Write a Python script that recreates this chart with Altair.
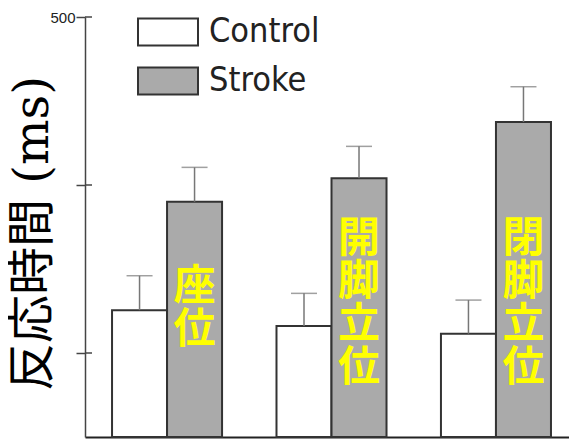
import altair as alt
import pandas as pd

conditions = ["座位", "開脚立位", "閉脚立位"]
bar_labels = ["座\n位", "開\n脚\n立\n位", "閉\n脚\n立\n位"]
label_y = [179, 236, 236]
groups = ["Control", "Stroke"]
control_mean = [151, 132, 123]
control_err = [41, 39, 40]
stroke_mean = [280, 308, 375]
stroke_err = [41, 38, 42]
y_ticks = [100, 300, 500]

rows = []
for i, c in enumerate(conditions):
    rows.append({"condition": c, "group": "Control", "mean": control_mean[i],
                 "top": control_mean[i] + control_err[i]})
    rows.append({"condition": c, "group": "Stroke", "mean": stroke_mean[i],
                 "top": stroke_mean[i] + stroke_err[i]})
df = pd.DataFrame(rows)
df_lab = pd.DataFrame({"condition": conditions, "group": ["Stroke"] * 3,
                       "label": bar_labels, "ly": label_y})
df_ticks = pd.DataFrame({"v": y_ticks})

x_enc = alt.X("condition:N", sort=conditions,
              scale=alt.Scale(paddingInner=0.331, paddingOuter=0.137, align=0.6),
              axis=alt.Axis(labels=False, ticks=False, title=None,
                            domainColor="#222", domainWidth=2))
xo_enc = alt.XOffset("group:N", sort=groups,
                     scale=alt.Scale(domain=groups, paddingInner=0, paddingOuter=0))
y_scale = alt.Scale(domain=[0, 500], nice=False)

bars = alt.Chart(df).mark_bar(stroke="#333", strokeWidth=2).encode(
    x=x_enc,
    xOffset=xo_enc,
    y=alt.Y("mean:Q", scale=y_scale,
            axis=alt.Axis(values=y_ticks, grid=False,
                          labelExpr="datum.value == 500 ? '500' : ''",
                          domainColor="#444", domainWidth=1.5,
                          tickColor="#444", tickWidth=1.5, tickSize=9,
                          labelPadding=1, labelFont="Liberation Sans",
                          labelFontSize=15, labelColor="#222",
                          title="反応時間 (ms)",
                          titleFont="DejaVu Serif, Noto Sans CJK JP",
                          titleFontSize=48, titleFontWeight="normal",
                          titleColor="black", titleAngle=270,
                          titleX=-52, titleY=216, titleBaseline="middle",
                          titleAlign="center")),
    fill=alt.Fill("group:N",
                  scale=alt.Scale(domain=groups, range=["white", "#aaaaaa"]),
                  legend=alt.Legend(title=None, orient="none", legendX=52,
                                    legendY=-16,
                                    symbolType="M-1,-0.45H1V0.45H-1Z",
                                    symbolSize=3600, symbolStrokeColor="#333",
                                    symbolStrokeWidth=2,
                                    labelFont="DejaVu Sans Condensed, Liberation Sans",
                                    labelFontSize=34, labelColor="#222",
                                    labelOffset=10, rowPadding=-15)),
)

err = alt.Chart(df).mark_rule(color="#777", strokeWidth=1.5).encode(
    x=x_enc, xOffset=xo_enc, y=alt.Y("mean:Q", scale=y_scale), y2="top:Q")

caps = alt.Chart(df).mark_tick(color="#777", thickness=1.5, size=26,
                               orient="horizontal").encode(
    x=x_enc, xOffset=xo_enc, y=alt.Y("top:Q", scale=y_scale))

text = alt.Chart(df_lab).mark_text(color="#ffff00", font="Noto Sans CJK JP",
                                   fontSize=42, fontWeight="bold",
                                   lineBreak="\n", lineHeight=43,
                                   baseline="middle", align="center").encode(
    x=x_enc, xOffset=xo_enc, y=alt.Y("ly:Q", scale=y_scale), text="label:N")

inner_ticks = alt.Chart(df_ticks).mark_rule(color="#444", strokeWidth=1.5).encode(
    y=alt.Y("v:Q", scale=y_scale), x=alt.value(0), x2=alt.value(7))

chart = alt.layer(bars, err, caps, text, inner_ticks).properties(
    width=484, height=420,
    autosize=alt.AutoSizeParams(type="none"),
    padding={"left": 77, "top": 9, "right": 0, "bottom": 5},
    background="white",
).configure_view(stroke=None)

chart.save("out.html", embed_options={"renderer": "svg", "actions": False})
